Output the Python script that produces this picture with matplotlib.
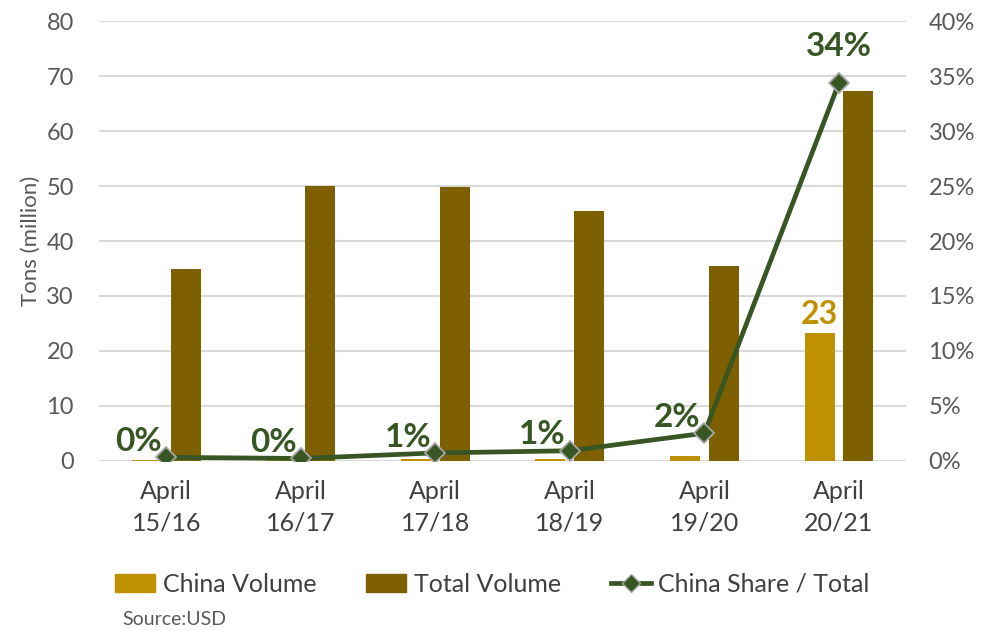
import matplotlib
matplotlib.use("Agg")
import matplotlib.pyplot as plt
import numpy as np
from matplotlib.lines import Line2D
from matplotlib.patches import Patch

plt.rcParams["font.family"] = ["Lato", "DejaVu Sans"]

GOLD, BROWN, GREEN = "#BF9000", "#7F6000", "#375623"
GRID, TXT = "#D9D9D9", "#595959"

seasons = ["April\n15/16", "April\n16/17", "April\n17/18", "April\n18/19", "April\n19/20", "April\n20/21"]
china_vol = [0.05, 0.05, 0.3, 0.35, 0.9, 23.2]
total_vol = [34.9, 50.1, 49.9, 45.5, 35.4, 67.3]
china_share = [0.3, 0.2, 0.7, 0.9, 2.5, 34.4]
share_labels = ["0%", "0%", "1%", "1%", "2%", "34%"]

x = np.arange(len(seasons))
w, off = 0.223, 0.144

fig = plt.figure(figsize=(9.85, 6.31), dpi=100)
ax = fig.add_axes([0.1005, 0.27, 0.8195, 0.696])
ax2 = ax.twinx()

ax.set_axisbelow(True)
ax.bar(x - off, china_vol, w, color=GOLD, zorder=2)
ax.bar(x + off, total_vol, w, color=BROWN, zorder=2)
ax.set_ylim(0, 80)
ax.set_yticks(range(0, 81, 10))
ax.set_xlim(-0.5, 5.5)
ax.set_xticks(x)
ax.set_xticklabels(seasons, fontsize=18, color="#404040", linespacing=1.45)
ax.grid(axis="y", color=GRID, lw=1.5)
ax.tick_params(axis="y", length=0, labelsize=17, labelcolor=TXT, pad=18)
ax.tick_params(axis="x", length=0, pad=14)
ax.set_ylabel("Tons (million)", fontsize=16, color=TXT, labelpad=4)
for s in ax.spines.values():
    s.set_visible(False)

ax.annotate("23", (x[5] - off, china_vol[5]), xytext=(0, 3), textcoords="offset points",
            ha="center", va="bottom", fontsize=23, fontweight="bold", color=GOLD)

ax2.plot(x, china_share, color=GREEN, lw=3.4, marker="D", ms=10, mfc=GREEN,
         mec="#A6A6A6", mew=1.3, zorder=5)
ax2.set_ylim(0, 40)
ax2.set_yticks(range(0, 41, 5))
ax2.set_yticklabels([f"{v}%" for v in range(0, 41, 5)])
ax2.tick_params(axis="y", length=0, labelsize=17, labelcolor=TXT, pad=16)
for s in ax2.spines.values():
    s.set_visible(False)

for i, (v, lab) in enumerate(zip(china_share, share_labels)):
    if i == 5:
        ax2.annotate(lab, (x[i], v), xytext=(0, 16), textcoords="offset points",
                     ha="center", va="bottom", fontsize=24, fontweight="bold", color=GREEN)
    else:
        ax2.annotate(lab, (x[i], v), xytext=(-3, 1), textcoords="offset points",
                     ha="right", va="bottom", fontsize=24, fontweight="bold", color=GREEN)

handles = [Patch(color=GOLD, label="China Volume"),
           Patch(color=BROWN, label="Total Volume"),
           Line2D([], [], color=GREEN, lw=3.4, marker="D", ms=9, mfc=GREEN, mec="#A6A6A6",
                  label="China Share / Total")]
fig.legend(handles=handles, loc="center", bbox_to_anchor=(0.5, 0.074), ncol=3, frameon=False,
           fontsize=18, labelcolor="#404040", handlelength=1.6, handletextpad=0.3,
           columnspacing=2.0)
fig.text(0.124, 0.018, "Source:USD", fontsize=14, color=TXT, ha="left", va="center")

fig.savefig("out.png", dpi=100, facecolor="white")
